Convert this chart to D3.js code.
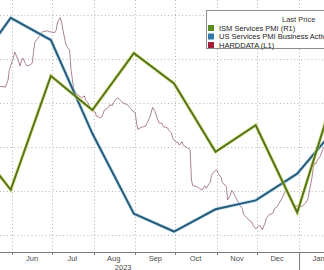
<!DOCTYPE html>
<html>
<head>
<meta charset="utf-8">
<script src="https://cdn.jsdelivr.net/npm/d3@7"></script>
<style>
    html, body { margin: 0; padding: 0; background: #fff; }
    svg { display: block; }
</style>
</head>
<body>
<svg id="chart"></svg>
<script>
// monthly series (plotted at month end)
const pmiDates = ["2023-04-30", "2023-05-31", "2023-06-30", "2023-07-31", "2023-08-31",
                  "2023-09-30", "2023-10-31", "2023-11-30", "2023-12-31", "2024-01-31"];
const ismServices = [52.3, 50.9, 53.9, 53.0, 54.5, 53.7, 51.9, 52.6, 50.3, 53.8];
const usServicesActivity = [53.6, 54.9, 54.4, 52.3, 50.5, 50.1, 50.6, 50.8, 51.4, 52.5];

// HARDDATA (L1)
const hardDates = [
    "2023-05-23", "2023-05-27", "2023-05-29", "2023-05-30", "2023-06-02", "2023-06-03", "2023-06-05",
    "2023-06-07", "2023-06-08", "2023-06-09", "2023-06-11", "2023-06-12", "2023-06-14", "2023-06-16",
    "2023-06-17", "2023-06-18", "2023-06-20", "2023-06-21", "2023-06-23", "2023-06-24", "2023-06-27",
    "2023-06-29", "2023-07-02", "2023-07-03", "2023-07-04", "2023-07-05", "2023-07-07", "2023-07-08",
    "2023-07-09", "2023-07-11", "2023-07-12", "2023-07-14", "2023-07-15", "2023-07-17", "2023-07-18",
    "2023-07-19", "2023-07-21", "2023-07-23", "2023-07-25", "2023-07-26", "2023-07-28", "2023-07-29",
    "2023-07-31", "2023-08-02", "2023-08-03", "2023-08-06", "2023-08-07", "2023-08-08", "2023-08-09",
    "2023-08-12", "2023-08-13", "2023-08-15", "2023-08-16", "2023-08-18", "2023-08-19", "2023-08-21",
    "2023-08-23", "2023-08-26", "2023-08-28", "2023-08-30", "2023-09-01", "2023-09-02", "2023-09-03",
    "2023-09-05", "2023-09-07", "2023-09-09", "2023-09-10", "2023-09-12", "2023-09-14", "2023-09-16",
    "2023-09-17", "2023-09-19", "2023-09-21", "2023-09-22", "2023-09-25", "2023-09-26", "2023-09-28",
    "2023-09-29", "2023-10-01", "2023-10-03", "2023-10-04", "2023-10-06", "2023-10-07", "2023-10-09",
    "2023-10-10", "2023-10-12", "2023-10-13", "2023-10-14", "2023-10-17", "2023-10-19", "2023-10-21",
    "2023-10-23", "2023-10-24", "2023-10-27", "2023-10-28", "2023-10-30", "2023-11-01", "2023-11-02",
    "2023-11-04", "2023-11-05", "2023-11-08", "2023-11-09", "2023-11-11", "2023-11-12", "2023-11-13",
    "2023-11-15", "2023-11-17", "2023-11-18", "2023-11-20", "2023-11-21", "2023-11-23", "2023-11-25",
    "2023-11-27", "2023-11-28", "2023-11-30", "2023-12-01", "2023-12-03", "2023-12-05", "2023-12-07",
    "2023-12-08", "2023-12-10", "2023-12-13", "2023-12-14", "2023-12-16", "2023-12-18", "2023-12-20",
    "2023-12-22", "2023-12-23", "2023-12-25", "2023-12-28", "2023-12-29", "2023-12-31", "2024-01-02",
    "2024-01-04", "2024-01-06", "2024-01-08", "2024-01-09", "2024-01-11", "2024-01-12", "2024-01-13",
    "2024-01-14", "2024-01-15", "2024-01-17", "2024-01-19", "2024-01-21"
];
const hardData = [
    0.69, 0.68, 0.76, 0.88, 1.01, 1.08, 1.01,
    0.92, 0.98, 1.01, 0.95, 0.92, 0.93, 0.95,
    1.07, 1.19, 1.23, 1.25, 1.30, 1.31, 1.32,
    1.31, 1.30, 1.30, 1.33, 1.42, 1.47, 1.42,
    1.33, 1.18, 1.14, 1.10, 0.88, 0.67, 0.63,
    0.61, 0.58, 0.56, 0.58, 0.53, 0.50, 0.45,
    0.43, 0.40, 0.35, 0.33, 0.34, 0.375, 0.42,
    0.45, 0.48, 0.47, 0.51, 0.55, 0.56, 0.53,
    0.50, 0.48, 0.45, 0.41, 0.39, 0.27, 0.20,
    0.22, 0.23, 0.24, 0.28, 0.34, 0.45, 0.40,
    0.34, 0.27, 0.27, 0.23, 0.22, 0.19, 0.16,
    0.10, 0.06, 0.05, 0.02, 0.06, 0.02, 0.00,
    -0.01, -0.03, -0.375, -0.44, -0.45, -0.47, -0.49,
    -0.44, -0.47, -0.40, -0.32, -0.28, -0.26, -0.30,
    -0.34, -0.40, -0.45, -0.60, -0.55, -0.49, -0.51,
    -0.57, -0.625, -0.66, -0.70, -0.77, -0.80, -0.83,
    -0.85, -0.89, -0.93, -0.91, -0.89, -0.94, -0.86,
    -0.81, -0.77, -0.75, -0.70, -0.68, -0.625, -0.57,
    -0.51, -0.49, -0.55, -0.64, -0.67, -0.67, -0.68,
    -0.67, -0.64, -0.59, -0.51, -0.35, -0.23, -0.18,
    -0.19, -0.15, -0.11, -0.03, 0.02
];

const legendTitle = "Last Price";
const legendLabels = ["ISM Services PMI  (R1)", "US Services PMI Business Activity  (R2)", "HARDDATA  (L1)"];
const legendColors = ["#5b8a26", "#2f78a8", "#a3203c"];

class PmiChart {
    constructor (config) {
        this.config = {
            parent: config.parent,
            width: config.width || 324,
            height: config.height || 270,
            plotHeight: config.plotHeight || 252
        };
        this.init();
    }

    init() {
        let self = this;
        const parse = d3.timeParse("%Y-%m-%d");

        self.pmi = pmiDates.map((d, i) => ({date: parse(d), ism: ismServices[i], us: usServicesActivity[i]}));
        self.hard = hardDates.map((d, i) => ({date: parse(d), value: hardData[i]}));

        self.svg = d3.select(self.config.parent)
            .attr('width', self.config.width)
            .attr('height', self.config.height)
            .style('font-family', '"Liberation Sans", Arial, sans-serif');

        self.xScale = d3.scaleTime()
            .domain([parse("2023-05-23"), parse("2024-01-20")])
            .range([0, self.config.width]);

        // left axis (HARDDATA) and two right axes; axes themselves are outside the crop
        self.yLeft = d3.scaleLinear().domain([-1.193, 1.67]).range([self.config.plotHeight, 0]);
        self.yIsm = d3.scaleLinear().domain([49.26, 55.9]).range([self.config.plotHeight, 0]);
        self.yUs = d3.scaleLinear().domain([49.64, 55.3]).range([self.config.plotHeight, 0]);

        self.svg.append('defs').append('clipPath').attr('id', 'plot-clip')
            .append('rect')
            .attr('width', self.config.width)
            .attr('height', self.config.plotHeight);

        self.render();
    }

    render() {
        let self = this;
        const H = self.config.plotHeight;
        const W = self.config.width;
        const months = self.xScale.ticks(d3.timeMonth.every(1));

        // dotted grid
        const grid = self.svg.append('g')
            .attr('stroke', '#b5b5b5')
            .attr('stroke-dasharray', '1,2.5');
        grid.selectAll('.hgrid')
            .data(self.yLeft.ticks(6))
            .join('line')
            .attr('x1', 0).attr('x2', W)
            .attr('y1', d => self.yLeft(d) + 0.5)
            .attr('y2', d => self.yLeft(d) + 0.5);
        grid.selectAll('.vgrid')
            .data(months)
            .join('line')
            .attr('x1', d => Math.round(self.xScale(d)) + 0.5)
            .attr('x2', d => Math.round(self.xScale(d)) + 0.5)
            .attr('y1', 0).attr('y2', H);

        const plot = self.svg.append('g').attr('clip-path', 'url(#plot-clip)');

        const hardLine = d3.line()
            .x(d => self.xScale(d.date))
            .y(d => self.yLeft(d.value));
        plot.append('path')
            .datum(self.hard)
            .attr('fill', 'none')
            .attr('stroke', '#ad8294')
            .attr('stroke-width', 1)
            .attr('d', hardLine);

        const usLine = d3.line()
            .x(d => self.xScale(d.date))
            .y(d => self.yUs(d.us));
        const ismLine = d3.line()
            .x(d => self.xScale(d.date))
            .y(d => self.yIsm(d.ism));

        // light halo under each thick line, then the line itself
        plot.append('path').datum(self.pmi)
            .attr('fill', 'none').attr('stroke', '#9fd8ec').attr('stroke-width', 3.6).attr('opacity', 0.6)
            .attr('d', usLine);
        plot.append('path').datum(self.pmi)
            .attr('fill', 'none').attr('stroke', '#2b5a7a').attr('stroke-width', 2)
            .attr('stroke-linejoin', 'miter')
            .attr('d', usLine);

        plot.append('path').datum(self.pmi)
            .attr('fill', 'none').attr('stroke', '#cfe35c').attr('stroke-width', 3.6).attr('opacity', 0.6)
            .attr('d', ismLine);
        plot.append('path').datum(self.pmi)
            .attr('fill', 'none').attr('stroke', '#56741f').attr('stroke-width', 2)
            .attr('stroke-linejoin', 'miter')
            .attr('d', ismLine);

        // x axis
        const axis = self.svg.append('g').attr('transform', `translate(0, ${H})`);
        axis.append('line')
            .attr('x1', 0).attr('x2', W)
            .attr('y1', 0.5).attr('y2', 0.5)
            .attr('stroke', '#7a7a7a');
        axis.selectAll('.tick')
            .data(months)
            .join('line')
            .attr('x1', d => Math.round(self.xScale(d)) + 0.5)
            .attr('x2', d => Math.round(self.xScale(d)) + 0.5)
            .attr('y1', 0)
            .attr('y2', d => d.getMonth() === 0 ? 18 : 3)
            .attr('stroke', '#7a7a7a');
        axis.selectAll('.mlabel')
            .data(months)
            .join('text')
            .attr('x', d => self.xScale(d3.timeDay.offset(d, 15)))
            .attr('y', 9)
            .attr('text-anchor', 'middle')
            .attr('font-size', '7.5px')
            .attr('fill', '#4a4a4a')
            .text(d => d3.timeFormat('%b')(d));
        axis.append('text')
            .attr('x', self.xScale(new Date(2023, 7, 23)))
            .attr('y', 17.5)
            .attr('text-anchor', 'middle')
            .attr('font-size', '7.5px')
            .attr('fill', '#4a4a4a')
            .text('2023');

        // legend
        const legend = self.svg.append('g').attr('transform', 'translate(206, 10)');
        legend.append('rect')
            .attr('x', 0.5).attr('y', 0.5)
            .attr('width', 140).attr('height', 38)
            .attr('fill', '#fff')
            .attr('stroke', '#8c8c8c');
        legend.append('text')
            .attr('x', 76).attr('y', 12)
            .attr('font-size', '7.5px')
            .attr('fill', '#333')
            .text(legendTitle);
        const rows = legend.selectAll('.row')
            .data(legendLabels)
            .join('g')
            .attr('transform', (d, i) => `translate(0, ${18 + i * 8.5})`);
        rows.append('rect')
            .attr('x', 2).attr('y', -3)
            .attr('width', 6).attr('height', 6)
            .attr('fill', (d, i) => legendColors[i]);
        rows.append('text')
            .attr('x', 13).attr('y', 2.8)
            .attr('font-size', '7.5px')
            .attr('fill', '#222')
            .text(d => d);
    }
}

new PmiChart({parent: '#chart', width: 324, height: 270});
</script>
</body>
</html>
